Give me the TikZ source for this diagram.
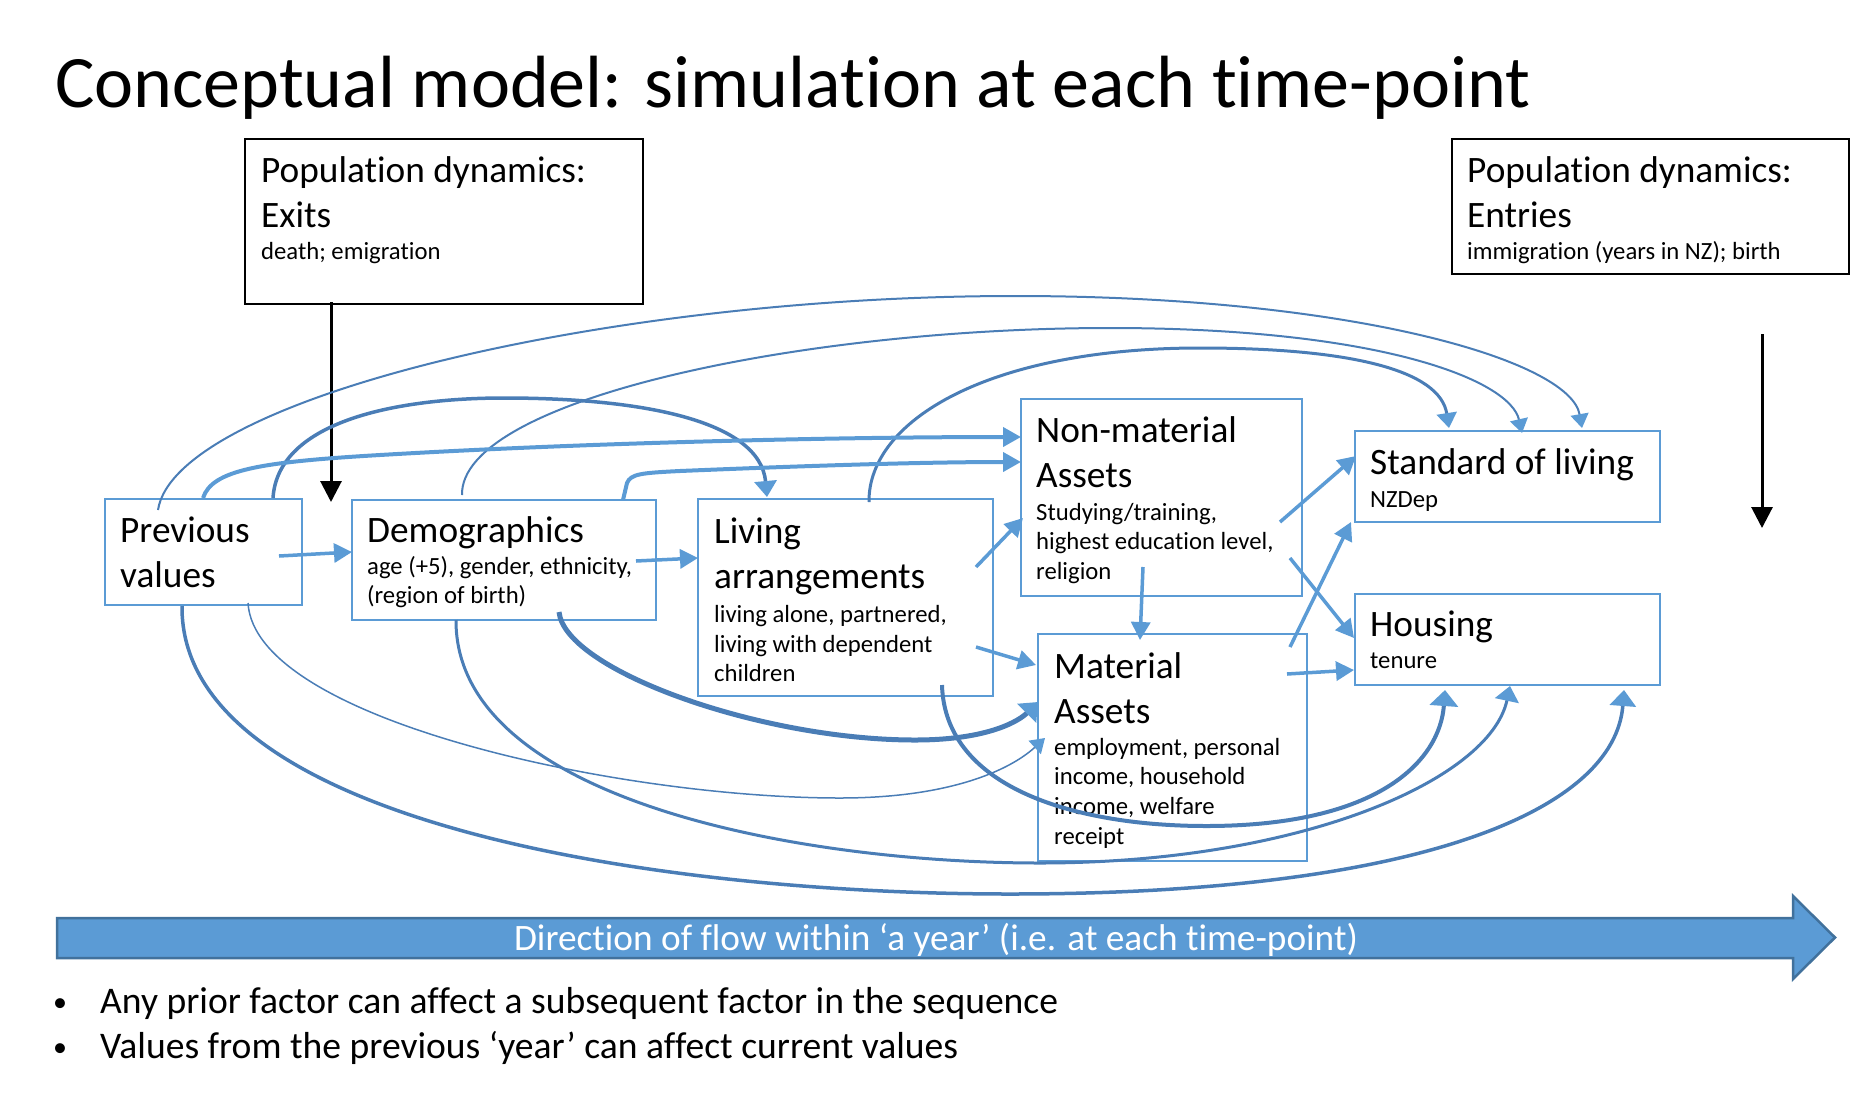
\documentclass[tikz,border=0pt]{standalone}
\usepackage{fontspec}
\setmainfont{Carlito}[Ligatures={NoCommon}]
\usetikzlibrary{arrows.meta}

\definecolor{lb}{HTML}{5B9BD5}
\definecolor{db}{HTML}{41719C}
\definecolor{cb}{HTML}{4A7DB6}

% text helpers: a top-aligned block whose baseline is its first line
\newcommand\cell[1]{\vtop{\parindent=0pt\hsize=420pt\relax #1\par}}
\newcommand\hd{\fontsize{37.3}{45}\selectfont}
\newcommand\sm[1][2.3]{\par\vskip #1pt\fontsize{24.7}{29.7}\selectfont}

\begin{document}
\begin{tikzpicture}[x=1pt,y=-1pt,
  box/.style={draw=lb, line width=2pt, inner sep=0pt, outer sep=0pt, anchor=north west},
  kbox/.style={draw=black, line width=2.2pt, inner sep=0pt, outer sep=0pt, anchor=north west},
  txt/.style={anchor=base west, inner sep=0pt},
  flowline/.style={draw=lb, line width=3.5pt, -{Triangle[width=19pt,length=18pt]}},
  curvelink/.style={draw=cb},
  blk/.style={draw=black, line width=3pt, -{Triangle[width=21pt,length=21pt]}},
]
\useasboundingbox (0,0) rectangle (1863,1101);

% title
\node[txt] (title) at (55,107) {\fontsize{74}{89}\selectfont Conceptual model: simulation at each time-point};

% boxes
\node[kbox, minimum width=398pt, minimum height=165pt] (exits) at (245,139) {};
\node[kbox, minimum width=397pt, minimum height=135pt] (entries) at (1452,139) {};
\node[box, minimum width=197pt, minimum height=106pt] (prev) at (105,499) {};
\node[box, minimum width=304pt, minimum height=120pt] (demog) at (352,500) {};
\node[box, minimum width=295pt, minimum height=197pt] (living) at (698,499) {};
\node[box, minimum width=281pt, minimum height=197pt] (nonmat) at (1021,399) {};
\node[box, minimum width=269pt, minimum height=227pt] (mat) at (1038,634) {};
\node[box, minimum width=305pt, minimum height=91pt] (std) at (1355,431) {};
\node[box, minimum width=305pt, minimum height=91pt] (housing) at (1355,594) {};

% box texts
\node[txt] (exitstxt) at (261,182) {\cell{\hd Population dynamics:\par Exits\sm death; emigration}};
\node[txt] (entriestxt) at (1467,182) {\cell{\hd Population dynamics:\par Entries\sm immigration (years in NZ); birth}};
\node[txt] (prevtxt) at (120,542) {\cell{\hd Previous\par values}};
\node[txt] (demogtxt) at (367,542) {\cell{\hd Demographics\sm age (+5), gender, ethnicity,\par (region of birth)}};
\node[txt] (livingtxt) at (714,543) {\cell{\hd Living\par arrangements\sm[4.8] living alone, partnered,\par living with dependent\par children}};
\node[txt] (nonmattxt) at (1036,442) {\cell{\hd Non-material\par Assets\sm[3.3] Studying/training,\par highest education level,\par religion}};
\node[txt] (mattxt) at (1054,678) {\cell{\hd Material\par Assets\sm employment, personal\par income, household\par income, welfare\par receipt}};
\node[txt] (stdtxt) at (1370,474) {\cell{\hd Standard of living\sm[3.3] NZDep}};
\node[txt] (housingtxt) at (1370,636) {\cell{\hd Housing\sm tenure}};

% population dynamics arrows
\coordinate (exitsend) at (331,502);
\draw[blk] ([shift={(86,163)}]exits.north west) -- (exitsend);
\coordinate (rtop) at (1762,334);
\coordinate (rbot) at (1762,528);
\draw[blk] (rtop) -- (rbot);

% arcs over the top
\draw[curvelink, line width=2pt, -{Triangle[width=18pt,length=14pt,color=lb]}]
  ([shift={(53,11)}]prev.north west) .. controls (175,400) and (600,296) .. (1015,296)
  .. controls (1350,296) and (1570,360) .. ([shift={(227,-3)}]std.north west);
\draw[curvelink, line width=2pt, -{Triangle[width=18pt,length=14pt,color=lb]}]
  ([shift={(110,-5)}]demog.north west) .. controls (460,400) and (800,328) .. (1110,328)
  .. controls (1380,328) and (1510,380) .. ([shift={(167,2)}]std.north west);
\draw[curvelink, line width=3pt, -{Triangle[width=20pt,length=15pt,color=lb]}]
  ([shift={(171,3)}]living.north west) .. controls (868,420) and (990,348) .. (1200,348)
  .. controls (1350,348) and (1440,370) .. ([shift={(94,-3)}]std.north west);
\draw[curvelink, line width=3.5pt, -{Triangle[width=22pt,length=16pt,color=lb]}]
  ([shift={(168,-1)}]prev.north west) .. controls (278,420) and (400,398) .. (504,398)
  .. controls (640,398) and (760,420) .. ([shift={(69,-2)}]living.north west);
\draw[flowline, line width=4pt]
  ([shift={(98,-1)}]prev.north west) .. controls (212,470) and (260,462) .. (380,455)
  .. controls (600,442) and (850,437) .. ([shift={(0,38)}]nonmat.north west);
\draw[flowline, line width=4pt]
  ([shift={(271,0)}]demog.north west) -- (627,483) .. controls (631,474) and (640,473) .. (680,471)
  .. controls (800,466) and (920,462) .. ([shift={(0,63)}]nonmat.north west);

% arcs underneath
\draw[curvelink, line width=3.5pt, -{Triangle[width=26pt,length=16pt,color=lb]}]
  ([shift={(77,107)}]prev.north west) .. controls (180,820) and (650,894) .. (1010,894)
  .. controls (1420,894) and (1615,810) .. ([shift={(269,96)}]housing.north west);
\draw[curvelink, line width=1.5pt, -{Triangle[width=18pt,length=14pt,color=lb]}]
  ([shift={(143,104)}]prev.north west) .. controls (255,720) and (620,798) .. (840,798)
  .. controls (950,798) and (1010,770) .. ([shift={(7,104)}]mat.north west);
\draw[curvelink, line width=3pt, -{Triangle[width=24pt,length=15pt,color=lb]}]
  ([shift={(104,120)}]demog.north west) .. controls (455,800) and (800,863) .. (1040,863)
  .. controls (1300,863) and (1490,780) .. ([shift={(155,92)}]housing.north west);
\draw[curvelink, line width=5pt, -{Triangle[width=26pt,length=16pt,color=lb]}]
  ([shift={(207,112)}]demog.north west) .. controls (565,670) and (760,740) .. (915,740)
  .. controls (990,740) and (1020,720) .. ([shift={(0,68)}]mat.north west);
\draw[curvelink, line width=4pt, -{Triangle[width=28pt,length=16pt,color=lb]}]
  ([shift={(244,186)}]living.north west) .. controls (945,790) and (1080,826) .. (1206,826)
  .. controls (1380,826) and (1440,760) .. ([shift={(90,96)}]housing.north west);

% straight links
\draw[flowline] ([shift={(174,57)}]prev.north west) -- ([shift={(0,52)}]demog.north west);
\draw[flowline] ([shift={(284,61)}]demog.north west) -- ([shift={(0,59)}]living.north west);
\draw[flowline] ([shift={(278,68)}]living.north west) -- ([shift={(2,119)}]nonmat.north west);
\draw[flowline] ([shift={(278,148)}]living.north west) -- ([shift={(-2,31)}]mat.north west);
\draw[flowline] ([shift={(122,168)}]nonmat.north west) -- ([shift={(102,6)}]mat.north west);
\draw[flowline] ([shift={(259,123)}]nonmat.north west) -- ([shift={(1,25)}]std.north west);
\draw[flowline] ([shift={(269,159)}]nonmat.north west) -- ([shift={(-1,44)}]housing.north west);
\draw[flowline] ([shift={(252,13)}]mat.north west) -- ([shift={(-4,91)}]std.north west);
\draw[flowline] ([shift={(249,40)}]mat.north west) -- ([shift={(-1,76)}]housing.north west);

% direction of flow band
\path[fill=lb, draw=db, line width=2.5pt, line join=miter]
  (57,918) -- (1793,918) -- (1793,896) -- (1835,937.5) -- (1793,979) -- (1793,958) -- (57,958) -- cycle;
\node[anchor=base, inner sep=0pt, text=white] (flow) at (936,950)
  {\fontsize{37.3}{45}\selectfont Direction of flow within ‘a year’ (i.e. at each time-point)};

% notes
\node[txt] (dot1) at (53,1011) {\fontsize{28}{34}\selectfont •};
\node[txt] (note1) at (100,1013) {\fontsize{37.6}{45}\selectfont Any prior factor can affect a subsequent factor in the sequence};
\node[txt] (dot2) at (53,1056) {\fontsize{28}{34}\selectfont •};
\node[txt] (note2) at (100,1058) {\fontsize{37.6}{45}\selectfont Values from the previous ‘year’ can affect current values};
\end{tikzpicture}
\end{document}
